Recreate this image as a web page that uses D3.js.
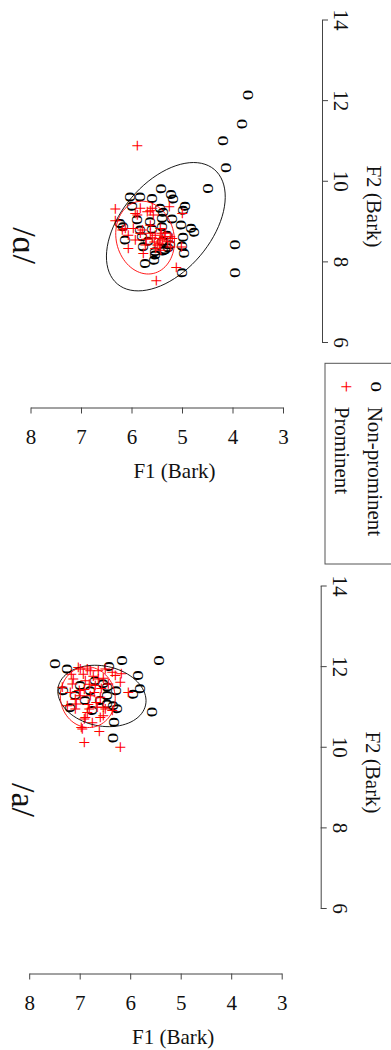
<!DOCTYPE html>
<html>
<head>
<meta charset="utf-8">
<script src="https://cdn.jsdelivr.net/npm/d3@7"></script>
<style>
  body { margin: 0; background: #fff; }
  svg text { font-family: "Liberation Serif", "Times New Roman", Times, "DejaVu Serif", serif; }
</style>
</head>
<body>
<div id="chart"></div>
<script>
// ticks and labels
const f1Ticks = [8, 7, 6, 5, 4, 3];
const f2Ticks = [14, 12, 10, 8, 6];
const vowels = ["/ɑ/", "/a/"];
const groups = ["Non-prominent", "Prominent"];
const groupSymbols = ["o", "+"];
const groupColors = ["black", "red"];

// /ɑ/ tokens, [F1, F2] in Bark
const backNonProm = [
  [3.69,12.13],[3.81,11.41],[4.20,10.99],[4.13,10.32],[4.48,9.81],[3.95,8.41],[3.95,7.72],[5.01,7.72],
  [5.42,9.80],[5.22,9.66],[5.18,9.55],[6.04,9.60],[5.83,9.60],[5.59,9.56],[4.94,9.37],[4.99,9.27],
  [6.00,9.37],[5.44,9.32],[5.37,9.22],[5.20,9.05],[5.02,8.90],[4.82,8.82],[4.76,8.72],[4.99,8.60],
  [4.97,8.20],[5.28,8.34],[5.37,8.26],[5.53,8.16],[5.55,8.03],[5.73,7.95],[5.77,8.36],[5.40,8.86],
  [5.30,8.65],[6.18,8.86],[6.13,8.53],[5.90,9.03],[5.83,8.78],[5.63,8.98],[5.40,9.07],[5.60,8.80],
  [5.80,8.61],[5.67,8.50],[5.40,8.49],[5.24,8.41],[5.01,8.38],[5.53,8.24],[5.34,8.28],[6.23,8.94]
];
const backProm = [
  [5.93,10.87],[6.36,9.30],[6.36,9.01],[5.96,9.19],[5.67,9.26],[5.30,9.36],[5.04,9.19],[6.23,8.78],
  [6.10,8.32],[5.80,8.20],[5.55,7.52],[5.16,7.85],[5.06,8.36],[5.27,8.61],[5.44,8.53],[5.57,8.32],
  [5.67,8.70],[5.87,8.70],[5.93,9.15],[5.73,9.23],[5.60,9.15],[6.16,8.82],[6.00,8.82],[5.83,8.78],
  [5.57,8.65],[5.47,8.57],[5.34,8.49],[5.96,8.53],[5.77,8.41],[5.53,8.41],[5.27,8.36],[5.47,8.28],
  [6.10,8.65],[5.67,8.90],[5.47,8.82],[5.37,8.70],[5.24,8.57],[5.87,9.32],[5.63,9.32],
  [5.50,8.45],[5.62,8.58],[5.40,8.62],[5.75,8.55],[5.58,8.48],[5.45,8.70]
];
// /a/ tokens
const frontNonProm = [
  [7.49,12.06],[7.26,11.93],[6.42,11.99],[6.17,12.14],[5.43,12.14],[5.84,11.77],[5.80,11.44],[5.94,11.30],
  [6.28,11.39],[6.34,11.02],[6.27,10.94],[5.58,10.86],[6.32,10.61],[6.35,10.22],[7.19,10.97],[7.33,11.39],
  [6.47,11.48],[6.54,11.56],[6.47,11.27],[6.47,11.06],[7.00,11.52],[6.80,11.39],[6.90,11.15],[6.70,11.64],
  [7.10,11.27],[6.60,11.15],[6.76,10.90]
];
const frontProm = [
  [7.06,11.97],[6.90,11.93],[6.67,11.89],[6.34,11.77],[6.24,11.60],[6.07,11.35],[7.39,11.48],[7.19,11.56],
  [6.93,11.64],[6.67,11.68],[6.47,11.56],[6.40,11.85],[6.94,10.11],[6.23,9.99],[6.98,10.44],[6.65,10.38],
  [6.94,10.69],[6.57,10.77],[7.13,10.94],[6.86,10.94],[6.40,10.90],[7.16,11.68],[6.73,11.52],[7.23,11.35],
  [7.03,11.27],[6.83,11.27],[6.63,11.23],[7.10,11.06],[6.70,10.98],[6.54,10.94],[6.93,10.73],[6.63,10.73],
  [7.00,10.48],[7.29,11.02],[6.54,11.93],[6.21,11.81],[6.57,10.98],[6.83,11.89],[7.03,11.93],
  [6.95,11.42],[6.85,11.55],[6.75,11.35],[6.88,11.05],[7.05,11.40],[6.62,11.45],[6.97,11.80],
  [6.78,11.75],[7.12,11.18],[6.90,10.85],[6.72,11.10],[7.20,11.80],[6.58,11.70],[6.80,10.60]
];
// ellipses: centre F1, centre F2, then two conjugate semi-axes (dF1, dF2)
const backEllipses = [
  [5.32, 8.86, -0.96, 1.42, -0.68, -0.72],
  [5.73, 8.59, 0.16, 0.89, -0.56, 0.156]
];
const frontEllipses = [
  [6.56, 11.26, -0.87, -0.05, 0.08, 0.76],
  [6.84, 11.23, 0.12, 0.74, -0.53, 0.14]
];

const width = 391, height = 1050;
const fs = 21;
const serif = '"Liberation Serif", "Times New Roman", Times, "DejaVu Serif", serif';

const svg = d3.select("#chart").append("svg")
  .attr("width", width)
  .attr("height", height)
  .attr("font-family", serif)
  .style("display", "block");

const panels = [
  { vowel: vowels[0], sets: [backNonProm, backProm], ellipses: backEllipses, dx: 0, dy: 0, labelY: 245.5 },
  { vowel: vowels[1], sets: [frontNonProm, frontProm], ellipses: frontEllipses, dx: -1.3, dy: 566, labelY: 234 }
];

panels.forEach(p => {
  const g = svg.append("g").attr("transform", `translate(${p.dx},${p.dy})`);

  const x = d3.scaleLinear().domain([8, 3]).range([30.5, 283]);
  const y = d3.scaleLinear().domain([14, 6]).range([19.5, 342]);

  // F1 axis (bottom)
  const xAxis = g.append("g")
    .attr("transform", "translate(0,407.5)")
    .call(d3.axisBottom(x).tickValues(f1Ticks).tickFormat(d3.format("d"))
      .tickSize(6).tickSizeOuter(0).tickPadding(16));
  xAxis.attr("font-family", serif).attr("font-size", fs);
  xAxis.selectAll("path, line").attr("stroke", "#444");
  xAxis.selectAll("text").attr("fill", "#111");

  g.append("text")
    .attr("x", 174.5).attr("y", 478)
    .attr("text-anchor", "middle")
    .attr("font-size", fs)
    .attr("fill", "#111")
    .text("F1 (Bark)");

  // F2 axis (right side, rotated labels)
  const yAxis = g.append("g")
    .attr("transform", "translate(322,0)")
    .call(d3.axisRight(y).tickValues(f2Ticks).tickFormat(d3.format("d"))
      .tickSize(6).tickSizeOuter(0));
  yAxis.attr("font-family", serif).attr("font-size", fs);
  yAxis.selectAll("path, line").attr("stroke", "#444");
  yAxis.selectAll("text")
    .attr("x", 0).attr("y", 0).attr("dy", null)
    .attr("transform", "translate(12,0) rotate(90)")
    .attr("text-anchor", "middle")
    .attr("fill", "#111");

  g.append("text")
    .attr("transform", "translate(367,206.5) rotate(90)")
    .attr("text-anchor", "middle")
    .attr("font-size", fs)
    .attr("fill", "#111")
    .text("F2 (Bark)");

  // vowel label
  g.append("text")
    .attr("transform", `translate(13,${p.labelY}) rotate(90)`)
    .attr("text-anchor", "middle")
    .attr("font-size", 34)
    .attr("fill", "#111")
    .text(p.vowel);

  // tokens
  p.sets.forEach((pts, i) => {
    g.append("g").selectAll("text")
      .data(pts)
      .join("text")
      .attr("transform", d => `translate(${x(d[0])},${y(d[1])}) rotate(90)`)
      .attr("text-anchor", "middle")
      .attr("dy", i === 0 ? "0.23em" : "0.25em")
      .attr("font-size", fs)
      .attr("fill", groupColors[i])
      .text(groupSymbols[i]);
  });

  // ellipses
  const line = d3.line().curve(d3.curveLinearClosed);
  p.ellipses.forEach((e, i) => {
    const ring = d3.range(0, 2 * Math.PI, Math.PI / 40).map(t => {
      const f1 = e[0] + Math.cos(t) * e[2] + Math.sin(t) * e[4];
      const f2 = e[1] + Math.cos(t) * e[3] + Math.sin(t) * e[5];
      return [x(f1), y(f2)];
    });
    g.append("path")
      .attr("d", line(ring))
      .attr("fill", "none")
      .attr("stroke", groupColors[i])
      .attr("stroke-width", 0.9);
  });
});

// legend
const legend = svg.append("g");
legend.append("rect")
  .attr("x", 325).attr("y", 363.3)
  .attr("width", 100).attr("height", 200.7)
  .attr("fill", "none")
  .attr("stroke", "#555");

const legendX = [376, 344];
const legendTextX = [367.5, 334.5];
groups.forEach((name, i) => {
  legend.append("text")
    .attr("transform", `translate(${legendX[i]},386.7) rotate(90)`)
    .attr("text-anchor", "middle")
    .attr("dy", i === 0 ? "0.23em" : "0.25em")
    .attr("font-size", fs)
    .attr("fill", groupColors[i])
    .text(groupSymbols[i]);
  legend.append("text")
    .attr("transform", `translate(${legendTextX[i]},406.7) rotate(90)`)
    .attr("font-size", fs)
    .attr("fill", "#111")
    .text(name);
});
</script>
</body>
</html>
